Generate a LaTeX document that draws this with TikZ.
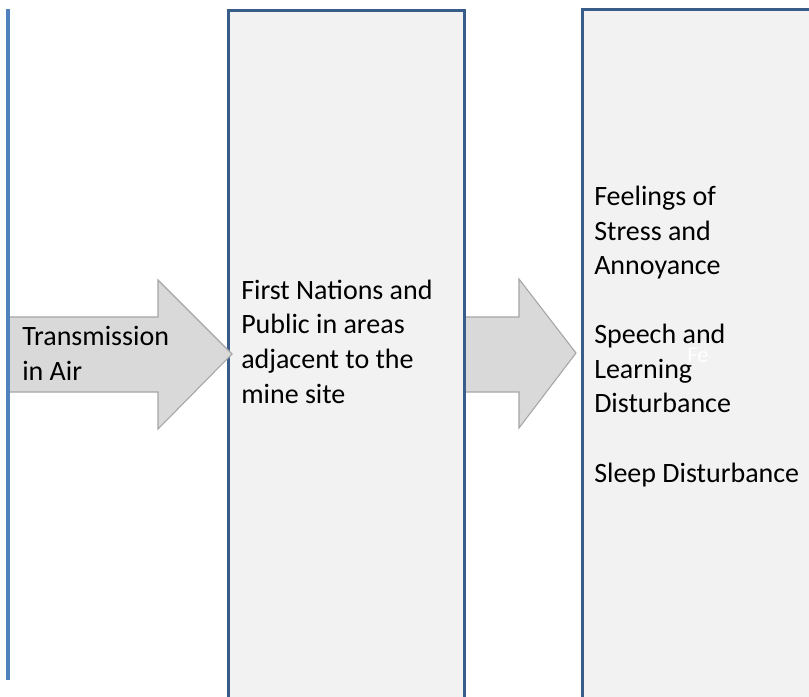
\documentclass[tikz,border=0pt]{standalone}
\usepackage{fontspec}
\setmainfont{Carlito}
\usetikzlibrary{positioning}
\definecolor{azulcito}{RGB}{56,93,138}
\definecolor{azulclaro}{RGB}{79,129,189}
\definecolor{grisfondo}{RGB}{242,242,242}
\definecolor{grisflecha}{RGB}{217,217,217}
\definecolor{grisborde}{RGB}{165,165,165}
\tikzset{>=stealth,
  stage/.style={draw=azulcito, line width=2.2pt, fill=grisfondo, anchor=north west, inner sep=0pt},
  blockarrow/.style={fill=grisflecha, draw=grisborde, line width=0.8pt, line join=miter},
  itemtext/.style={anchor=base west, align=left, inner sep=0pt, font=\fontsize{21}{25.9}\selectfont}}

\begin{document}
\begin{tikzpicture}[x=0.75pt,y=-0.75pt]
        \useasboundingbox (0,0) rectangle (809,696);
        \clip (0,0) rectangle (809,696);

        % Arrow 2: receptors -> effects
        \draw[blockarrow] (465,317) -- (519,317) -- (519,279) -- (576,353) -- (519,428) -- (519,392) -- (465,392) -- cycle;

        % Boxes, both run past the bottom edge
        \node[stage, minimum width=177pt, minimum height=540pt] (receptors) at (227,9) {};
        \node[stage, minimum width=200pt, minimum height=540pt] (effects) at (581,8) {};

        % Arrow 1: transmission in air
        \draw[blockarrow] (8,317) -- (158,317) -- (158,280) -- (232,354) -- (158,429) -- (158,392) -- (8,392) -- cycle;

        % Left edge line
        \coordinate (edgetop) at (8,9);
        \coordinate (edgebot) at (8,680);
        \draw[azulclaro, line width=2.4pt] (edgetop) -- (edgebot);

        % Texts (base anchor = last line)
        \node[itemtext] (pathway) at (22,380) {Transmission\\in Air};
        \node[itemtext] (people) at (241,403) {First Nations and\\Public in areas\\adjacent to the\\mine site};
        \node[itemtext] (health) at (594,482) {Feelings of\\Stress and\\Annoyance\\[25.9pt]Speech and\\Learning\\Disturbance\\[25.9pt]Sleep Disturbance};
        \node[anchor=base west, inner sep=0pt, text=white, font=\fontsize{17}{20}\selectfont] (ghost) at (687,362) {Fe};
      \end{tikzpicture}
\end{document}
